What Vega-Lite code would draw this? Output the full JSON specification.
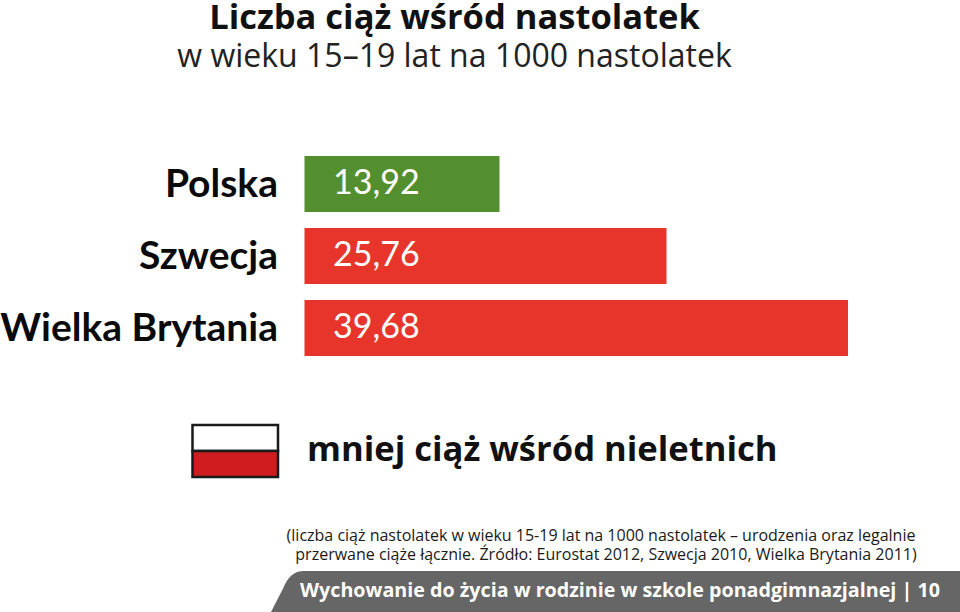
{
"$schema":"https://vega.github.io/schema/vega-lite/v6.json",
"width":960,"height":612,"padding":0,"autosize":{"type":"none"},
"background":"white",
"title":{"text":"Liczba ciąż wśród nastolatek","subtitle":"w wieku 15–19 lat na 1000 nastolatek","anchor":"middle","dx":-25.5,"offset":-74,"font":"Open Sans","fontSize":34.5,"fontWeight":"bold","color":"#111111","subtitleFont":"Open Sans","subtitleFontSize":32,"subtitleColor":"#222222","subtitlePadding":6},
"datasets":{
 "kraje":[{"kraj":"Polska","ciaze":13.92,"etykieta":"13,92","grupa":"mniej"},{"kraj":"Szwecja","ciaze":25.76,"etykieta":"25,76","grupa":"więcej"},{"kraj":"Wielka Brytania","ciaze":39.68,"etykieta":"39,68","grupa":"więcej"}]
},
"layer":[
{"data":{"name":"kraje"},"mark":{"type":"bar"},"encoding":{
 "x":{"field":"ciaze","type":"quantitative","axis":null,"scale":{"domain":[0,13.92,25.76,39.68],"range":[304.5,499.5,666.5,848]}},
 "y":{"field":"kraj","type":"nominal","axis":null,"sort":null,"scale":{"domain":["Polska","Szwecja","Wielka Brytania"],"range":[148,364],"paddingInner":0.2222,"paddingOuter":0.1111}},
 "color":{"field":"grupa","type":"nominal","legend":null,"scale":{"domain":["mniej","więcej"],"range":["#548f2f","#e8352c"]}}}},
{"data":{"name":"kraje"},"mark":{"type":"text","align":"left","dx":28.5,"font":"Lato","fontSize":34,"color":"white","baseline":"middle"},"encoding":{
 "x":{"datum":0,"type":"quantitative","axis":null,"scale":{"domain":[0,39.68],"range":[304.5,848]}},
 "y":{"field":"kraj","type":"nominal","axis":null,"sort":null,"scale":{"domain":["Polska","Szwecja","Wielka Brytania"],"range":[148,364],"paddingInner":0.2222,"paddingOuter":0.1111}},
 "text":{"field":"etykieta"}}},
{"data":{"name":"kraje"},"mark":{"type":"text","align":"right","dx":-26.5,"dy":1,"font":"Lato","fontWeight":"bold","fontSize":39,"color":"#0a0a0a","baseline":"middle"},"encoding":{
 "x":{"datum":0,"type":"quantitative","axis":null,"scale":{"domain":[0,39.68],"range":[304.5,848]}},
 "y":{"field":"kraj","type":"nominal","axis":null,"sort":null,"scale":{"domain":["Polska","Szwecja","Wielka Brytania"],"range":[148,364],"paddingInner":0.2222,"paddingOuter":0.1111}},
 "text":{"field":"kraj"}}},
{"data":{"values":[{"flaga":"Polska","pas":"biały"},{"flaga":"Polska","pas":"czerwony"}]},"mark":{"type":"rect","stroke":"#1a1a1a","strokeWidth":2.5},"encoding":{
 "x":{"field":"flaga","type":"nominal","axis":null,"scale":{"type":"band","range":[192.5,278],"padding":0}},
 "y":{"field":"pas","type":"nominal","axis":null,"sort":null,"scale":{"type":"band","domain":["biały","czerwony"],"range":[425,477],"padding":0}},
 "color":{"field":"pas","type":"nominal","legend":null,"scale":{"domain":["biały","czerwony"],"range":["#ffffff","#d01c1f"]}}}},
{"data":{"values":[{"tekst":"mniej ciąż wśród nieletnich"}]},"mark":{"type":"text","align":"left","baseline":"middle","font":"Open Sans","fontWeight":"bold","fontSize":34.6,"color":"#111111"},"encoding":{
 "x":{"field":"tekst","type":"nominal","axis":null,"scale":{"type":"point","range":[307,307],"padding":0}},
 "y":{"field":"tekst","type":"nominal","axis":null,"scale":{"type":"point","range":[451,451],"padding":0}},
 "text":{"field":"tekst"}}},
{"data":{"values":[{"tekst":"(liczba ciąż nastolatek w wieku 15-19 lat na 1000 nastolatek – urodzenia oraz legalnie"},{"tekst":"przerwane ciąże łącznie. Źródło: Eurostat 2012, Szwecja 2010, Wielka Brytania 2011)"}]},"mark":{"type":"text","align":"center","baseline":"middle","font":"Open Sans","fontSize":16,"color":"#1a1a1a"},"encoding":{
 "x":{"field":"tekst","type":"nominal","axis":null,"sort":null,"scale":{"type":"point","range":[601,606],"padding":0}},
 "y":{"field":"tekst","type":"nominal","axis":null,"sort":null,"scale":{"type":"point","range":[535.5,554.5],"padding":0}},
 "text":{"field":"tekst"}}},
{"data":{"values":[{"pasek":"stopka"}]},"mark":{"type":"point","filled":true,"opacity":1,"color":"#666666","size":474721,"shape":"M-1,0.0595 L-0.965,-0.0089 Q-0.945,-0.0595 -0.905,-0.0595 L1,-0.0595 L1,0.0595 Z"},"encoding":{
 "x":{"field":"pasek","type":"nominal","axis":null,"scale":{"type":"point","range":[615.5,615.5],"padding":0}},
 "y":{"field":"pasek","type":"nominal","axis":null,"scale":{"type":"point","range":[591.5,591.5],"padding":0}}}},
{"data":{"values":[{"tekst":"Wychowanie do życia w rodzinie w szkole ponadgimnazjalnej | 10"}]},"mark":{"type":"text","align":"center","baseline":"middle","font":"Open Sans","fontWeight":"bold","fontSize":19.7,"color":"white"},"encoding":{
 "x":{"field":"tekst","type":"nominal","axis":null,"scale":{"type":"point","range":[620,620],"padding":0}},
 "y":{"field":"tekst","type":"nominal","axis":null,"scale":{"type":"point","range":[591,591],"padding":0}},
 "text":{"field":"tekst"}}}
],
"resolve":{"scale":{"x":"independent","y":"independent","color":"independent"}},
"config":{"view":{"stroke":null}}
}
